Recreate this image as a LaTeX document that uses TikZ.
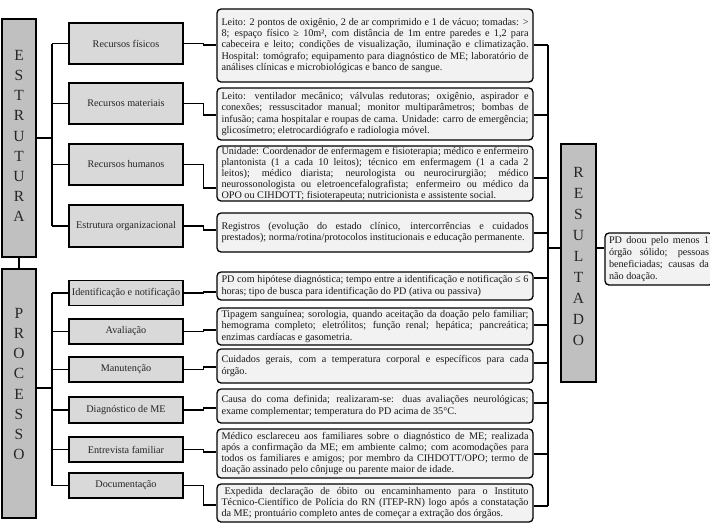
\documentclass[tikz,border=0pt]{standalone}
\usepackage{fontspec}
\setmainfont{Liberation Serif}
\newlength\dw \setlength\dw{307pt}
\newlength\rw \setlength\rw{100pt}
\newcommand\jl[1]{\makebox[\dw][s]{\spaceskip=0pt\xspaceskip=0pt #1}\\}
\newcommand\jr[1]{\makebox[\rw][s]{\spaceskip=0pt\xspaceskip=0pt #1}\\}
\definecolor{barfill}{HTML}{C0C0C0}
\definecolor{catfill}{HTML}{D9D9D9}
\definecolor{descfill}{HTML}{F2F2F2}
\tikzset{
  bar/.style={draw, line width=1.3pt, fill=barfill, inner sep=0pt, minimum width=34pt},
  letters/.style={font=\fontsize{15.5}{20.2}\selectfont, align=center, text=black!85, inner sep=0pt},
  cat/.style={draw, line width=1.3pt, fill=catfill, minimum width=114pt, inner sep=0pt, font=\fontsize{10.2}{11}\selectfont, text=black!85},
  desc/.style={draw, line width=1.3pt, rounded corners=4pt, fill=descfill, minimum width=316pt, text width=\dw, inner sep=0pt, align=justify, font=\fontsize{10.2}{11.3}\selectfont, text=black!90},
  resbox/.style={draw, line width=1.3pt, rounded corners=4pt, fill=descfill, minimum width=108pt, text width=\rw, inner sep=0pt, align=justify, font=\fontsize{10.2}{11.7}\selectfont, text=black!90},
  wire/.style={line width=1.1pt}
}
\begin{document}
\begin{tikzpicture}[x=1pt,y=-1pt]
\useasboundingbox (0,0) rectangle (710,523);
\clip (0,0) rectangle (710,523);
\fill[white] (0,0) rectangle (710,523);

% bars
\node[bar, minimum height=238pt] (E) at (19,138) {};
\node[letters] (Et) at (19,136) {E\\S\\T\\R\\U\\T\\U\\R\\A};
\node[bar, minimum height=249pt] (P) at (19,393.5) {};
\node[letters] (Pt) at (19,384) {P\\R\\O\\C\\E\\S\\S\\O};
\node[bar, minimum width=35pt, minimum height=238pt] (R) at (578.5,263) {};
\node[letters, font=\fontsize{15.5}{21}\selectfont] (Rt) at (578.5,256) {R\\E\\S\\U\\L\\T\\A\\D\\O};

% categories
\node[cat, minimum height=41pt] (c1) at (126,43.5) {Recursos físicos};
\node[cat, minimum height=41pt] (c2) at (126,103.5) {Recursos materiais};
\node[cat, minimum height=41pt] (c3) at (126,164.5) {Recursos humanos};
\node[cat, minimum height=42pt] (c4) at (126,226) {Estrutura organizacional};
\node[cat, minimum height=25pt] (p1) at (126,293) {Identificação e notificação};
\node[cat, minimum height=25pt] (p2) at (126,331.5) {Avaliação};
\node[cat, minimum height=25pt] (p3) at (126,369.5) {Manutenção};
\node[cat, minimum height=26pt] (p4) at (126,410) {Diagnóstico de ME};
\node[cat, minimum height=25pt] (p5) at (126,449.5) {Entrevista familiar};
\node[cat, minimum height=25pt] (p6) at (126,485.5) {Documentação};

% descriptions
\node[desc, minimum height=73pt] (d1) at (375,45.5) {%
\jl{Leito: 2 pontos de oxigênio, 2 de ar comprimido e 1 de vácuo; tomadas: >}
\jl{8; espaço físico ≥ 10m², com distância de 1m entre paredes e 1,2 para}
\jl{cabeceira e leito; condições de visualização, iluminação e climatização.}
\jl{Hospital: tomógrafo; equipamento para diagnóstico de ME; laboratório de}
análises clínicas e microbiológicas e banco de sangue.};
\node[desc, minimum height=52pt] (d2) at (375,114) {%
\jl{Leito: ventilador mecânico; válvulas redutoras; oxigênio, aspirador e}
\jl{conexões; ressuscitador manual; monitor multiparâmetros; bombas de}
\jl{infusão; cama hospitalar e roupas de cama. Unidade: carro de emergência;}
glicosímetro; eletrocardiógrafo e radiologia móvel.};
\node[desc, minimum height=55pt, font=\fontsize{10.2}{11}\selectfont] (d3) at (375,173.5) {%
\jl{Unidade: Coordenador de enfermagem e fisioterapia; médico e enfermeiro}
\jl{plantonista (1 a cada 10 leitos); técnico em enfermagem (1 a cada 2}
\jl{leitos); médico diarista; neurologista ou neurocirurgião; médico}
\jl{neurossonologista ou eletroencefalografista; enfermeiro ou médico da}
OPO ou CIHDOTT; fisioterapeuta; nutricionista e assistente social.};
\node[desc, minimum height=39pt] (d4) at (375,232.5) {%
\jl{Registros (evolução do estado clínico, intercorrências e cuidados}
prestados); norma/rotina/protocolos institucionais e educação permanente.};
\node[desc, minimum height=28pt] (q1) at (375,286) {%
\jl{PD com hipótese diagnóstica; tempo entre a identificação e notificação ≤ 6}
horas; tipo de busca para identificação do PD (ativa ou passiva)};
\node[desc, minimum height=37pt] (q2) at (375,326.5) {%
\jl{Tipagem sanguínea; sorologia, quando aceitação da doação pelo familiar;}
\jl{hemograma completo; eletrólitos; função renal; hepática; pancreática;}
enzimas cardíacas e gasometria.};
\node[desc, minimum height=34pt] (q3) at (375,366) {%
\jl{Cuidados gerais, com a temperatura corporal e específicos para cada}
órgão.};
\node[desc, minimum height=34pt] (q4) at (375,406) {%
\jl{Causa do coma definida; realizaram-se: duas avaliações neurológicas;}
exame complementar; temperatura do PD acima de 35°C.};
\node[desc, minimum height=49pt] (q5) at (375,453.5) {%
\jl{Médico esclareceu aos familiares sobre o diagnóstico de ME; realizada}
\jl{após a confirmação da ME; em ambiente calmo; com acomodações para}
\jl{todos os familiares e amigos; por membro da CIHDOTT/OPO; termo de}
doação assinado pelo cônjuge ou parente maior de idade.};
\node[desc, minimum height=38pt] (q6) at (375,503) {%
\jl{\hspace*{3pt}Expedida declaração de óbito ou encaminhamento para o Instituto}
\jl{Técnico-Científico de Polícia do RN (ITEP-RN) logo após a constatação}
da ME; prontuário completo antes de começar a extração dos órgãos.};

% result
\node[resbox, minimum height=52pt] (res) at (659,259) {%
\jr{PD doou pelo menos 1}
\jr{órgão sólido; pessoas}
\jr{beneficiadas; causas da}
não doação.};

% left tree: estrutura
\coordinate (eb) at (52,138);
\draw[wire] (E.east |- eb) -- (eb);
\draw[wire] (eb |- c1) -- (eb |- c4);
\foreach \c in {c1,c2,c3,c4} \draw[wire] (eb |- \c) -- (\c.west);
% estrutura to processo
\draw[wire] (E.south) -- (P.north);
% left tree: processo
\coordinate (pb) at (52,388);
\draw[wire] (P.east |- pb) -- (pb);
\draw[wire] (pb |- p1) -- (pb |- p6);
\foreach \c in {p1,p2,p3,p4,p5,p6} \draw[wire] (pb |- \c) -- (\c.west);

% category to description elbows
\draw[wire] (c1.east) -- ++(20,0) |- ([yshift=0.5pt]d1.west);
\draw[wire] (c2.east) -- ++(20,0) |- ([yshift=-1pt]d2.west);
\draw[wire] (c3.east) -- ++(20,0) |- ([yshift=-14.5pt]d3.west);
\draw[wire] (c4.east) -- ++(20,0) |- ([yshift=2.5pt]d4.west);
\draw[wire] (p1.east) -- ++(20,0) |- ([yshift=-6pt]q1.west);
\draw[wire] (p2.east) -- ++(20,0) |- ([yshift=-3.5pt]q2.west);
\draw[wire] (p3.east) -- ++(20,0) |- ([yshift=-1pt]q3.west);
\draw[wire] (p4.east) -- ++(20,0) |- ([yshift=-2pt]q4.west);
\draw[wire] (p5.east) -- ++(20,0) |- ([yshift=1.5pt]q5.west);
\draw[wire] (p6.east) -- ++(20,0) |- ([yshift=-2pt]q6.west);

% right bus
\coordinate (rt) at (548,45);
\coordinate (rbt) at (548,506);
\coordinate (rm) at (548,248);
\draw[wire] (rt) -- (rbt);
\draw[wire] ([yshift=0.5pt]d1.east) -- (rt);
\draw[wire] ([yshift=-1pt]d2.east) -- ++(15,0);
\draw[wire] ([yshift=-4.5pt]d3.east) -- ++(15,0);
\draw[wire] ([yshift=-0.5pt]d4.east) -- ++(15,0);
\draw[wire] ([yshift=8pt]q1.east) -- ++(15,0);
\draw[wire] ([yshift=1.5pt]q2.east) -- ++(15,0);
\draw[wire] ([yshift=3pt]q3.east) -- ++(15,0);
\draw[wire] ([yshift=3pt]q4.east) -- ++(15,0);
\draw[wire] ([yshift=-0.5pt]q5.east) -- ++(15,0);
\draw[wire] ([yshift=-3pt]q6.east) -- (rbt);
\draw[wire] (rm) -- (R.west |- rm);
\draw[wire] (R.east |- rm) -- (res.west |- rm);
\end{tikzpicture}
\end{document}
